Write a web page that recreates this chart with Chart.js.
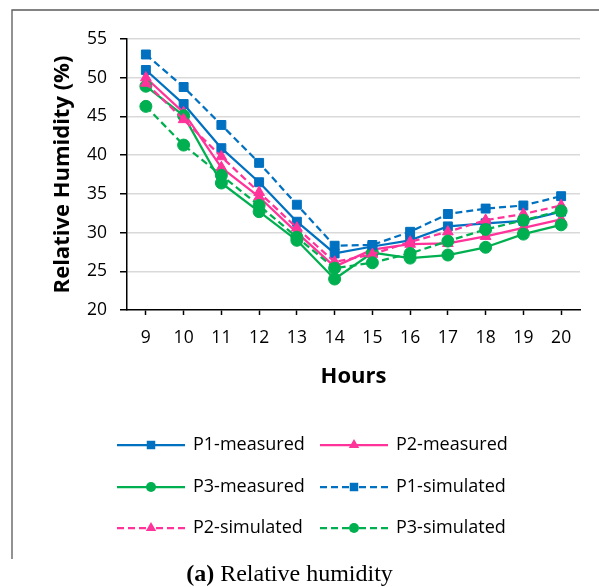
<!DOCTYPE html>
<html>
<head>
<meta charset="utf-8">
<script src="https://cdn.jsdelivr.net/npm/chart.js@4.4.1/dist/chart.umd.min.js"></script>
<style>
  html, body { margin: 0; padding: 0; background: #fff; }
  #wrap { width: 599px; height: 587px; position: relative; }
</style>
</head>
<body>
<div id="wrap"><canvas id="c" width="599" height="587"></canvas></div>
<script>
const hours = ['9', '10', '11', '12', '13', '14', '15', '16', '17', '18', '19', '20'];
const seriesLabels = ['P1-measured', 'P2-measured', 'P3-measured', 'P1-simulated', 'P2-simulated', 'P3-simulated'];
const p1Measured  = [51.0, 46.6, 40.9, 36.5, 31.4, 27.3, 28.2, 29.0, 30.8, 31.2, 31.5, 32.7];
const p2Measured  = [50.0, 45.5, 38.4, 34.6, 30.0, 25.6, 27.8, 28.5, 28.6, 29.5, 30.6, 31.7];
const p3Measured  = [48.9, 45.1, 36.4, 32.7, 29.0, 24.0, 27.4, 26.7, 27.1, 28.1, 29.8, 31.0];
const p1Simulated = [53.0, 48.8, 43.9, 39.0, 33.6, 28.3, 28.4, 30.1, 32.4, 33.1, 33.5, 34.7];
const p2Simulated = [49.3, 44.6, 39.8, 35.2, 30.6, 26.2, 27.2, 28.8, 30.1, 31.6, 32.4, 33.5];
const p3Simulated = [46.3, 41.3, 37.4, 33.5, 29.4, 25.4, 26.1, 27.3, 28.9, 30.4, 31.6, 32.8];
const yTicks = [20, 25, 30, 35, 40, 45, 50, 55];
const xTitle = 'Hours';
const yTitle = 'Relative Humidity (%)';
const captionBold = '(a)';
const captionRest = ' Relative humidity';

const BLUE = '#0070C0', PINK = '#FF3399', GREEN = '#00B050';
const FONT = "'Open Sans', sans-serif";
const DASH = [7, 4];

function ds(label, data, color, style, dashed, radius, idx) {
  return {
    label, data,
    borderColor: color, backgroundColor: color,
    borderWidth: 2.25,
    borderDash: dashed ? DASH : [],
    pointStyle: style,
    pointRadius: radius,
    pointHoverRadius: radius,
    pointBorderWidth: 1,
    pointBorderColor: color,
    pointBackgroundColor: color,
    tension: 0,
    fill: false,
    order: 10 - idx
  };
}

const datasets = [
  ds(seriesLabels[0], p1Measured, BLUE, 'rect', false, 6.3, 0),
  ds(seriesLabels[1], p2Measured, PINK, 'triangle', false, 6.2, 1),
  ds(seriesLabels[2], p3Measured, GREEN, 'circle', false, 6.0, 2),
  ds(seriesLabels[3], p1Simulated, BLUE, 'rect', true, 6.3, 3),
  ds(seriesLabels[4], p2Simulated, PINK, 'triangle', true, 6.2, 4),
  ds(seriesLabels[5], p3Simulated, GREEN, 'circle', true, 6.0, 5)
];

function drawMarker(ctx, style, x, y, r, color) {
  ctx.save();
  ctx.fillStyle = color;
  ctx.beginPath();
  if (style === 'rect') {
    const s = r * Math.SQRT1_2;
    ctx.rect(x - s, y - s, 2 * s, 2 * s);
  } else if (style === 'triangle') {
    ctx.moveTo(x, y - r);
    ctx.lineTo(x + r * 0.866, y + r * 0.5);
    ctx.lineTo(x - r * 0.866, y + r * 0.5);
    ctx.closePath();
  } else {
    ctx.arc(x, y, r, 0, Math.PI * 2);
  }
  ctx.fill();
  ctx.restore();
}

const decorPlugin = {
  id: 'decor',
  beforeDraw(chart) {
    const ctx = chart.ctx;
    ctx.save();
    ctx.fillStyle = '#fff';
    ctx.fillRect(0, 0, chart.width, chart.height);
    ctx.strokeStyle = '#595959';
    ctx.lineWidth = 1.3;
    ctx.beginPath();
    ctx.moveTo(12, 559);
    ctx.lineTo(12, 10);
    ctx.lineTo(599, 10);
    ctx.stroke();
    ctx.restore();
  },
  afterDraw(chart) {
    const ctx = chart.ctx;
    // legend
    const cols = [{x0: 117, x1: 185, tx: 193}, {x0: 320, x1: 388, tx: 396}];
    const rows = [445, 487, 528];
    chart.data.datasets.forEach((d, i) => {
      const c = cols[i % 2], y = rows[Math.floor(i / 2)];
      ctx.save();
      ctx.strokeStyle = d.borderColor;
      ctx.lineWidth = 2.25;
      ctx.setLineDash(d.borderDash || []);
      ctx.beginPath();
      const mid = (c.x0 + c.x1) / 2;
      if (d.borderDash && d.borderDash.length) {
        ctx.moveTo(c.x0, y); ctx.lineTo(mid - 2, y);
        ctx.stroke();
        ctx.beginPath();
        ctx.moveTo(c.x1, y); ctx.lineTo(mid + 2, y);
      } else {
        ctx.moveTo(c.x0, y); ctx.lineTo(c.x1, y);
      }
      ctx.stroke();
      ctx.restore();
      drawMarker(ctx, d.pointStyle, mid, y, d.pointStyle === 'circle' ? 5 : 6, d.borderColor);
      ctx.save();
      ctx.fillStyle = '#000';
      ctx.font = "18px " + FONT;
      ctx.textBaseline = 'middle';
      ctx.textAlign = 'left';
      ctx.fillText(d.label, c.tx, y);
      ctx.restore();
    });
    // caption
    ctx.save();
    ctx.fillStyle = '#000';
    ctx.textBaseline = 'middle';
    const fb = "bold 24px 'Liberation Serif', 'Times New Roman', serif";
    const fr = "24px 'Liberation Serif', 'Times New Roman', serif";
    ctx.font = fb; const wb = ctx.measureText(captionBold).width;
    ctx.font = fr; const wr = ctx.measureText(captionRest).width;
    const startX = 289.5 - (wb + wr) / 2;
    ctx.font = fb; ctx.textAlign = 'left'; ctx.fillText(captionBold, startX, 575);
    ctx.font = fr; ctx.fillText(captionRest, startX + wb, 575);
    ctx.restore();
  }
};

new Chart(document.getElementById('c'), {
  type: 'line',
  data: { labels: hours, datasets },
  options: {
    responsive: false,
    animation: false,
    devicePixelRatio: 1,
    layout: { padding: { left: 0, top: 39, right: 19, bottom: 0 } },
    plugins: { legend: { display: false }, tooltip: { enabled: false }, title: { display: false } },
    elements: { line: { borderCapStyle: 'butt', borderJoinStyle: 'round' } },
    scales: {
      x: {
        type: 'category',
        offset: true,
        afterFit(scale) { scale.height = 587 - 310; },
        grid: { display: true, drawOnChartArea: false, drawTicks: true, tickLength: 5, tickColor: '#000', tickWidth: 1.5, offset: false },
        border: { display: true, color: '#000', width: 1.5 },
        ticks: { color: '#000', font: { family: FONT, size: 17.5 }, padding: 13, maxRotation: 0, autoSkip: false },
        title: { display: true, text: xTitle, color: '#000', font: { family: FONT, size: 22, weight: 'bold' }, padding: { top: 0, bottom: 197 } }
      },
      y: {
        min: yTicks[0], max: yTicks[yTicks.length - 1],
        afterFit(scale) { scale.width = 127; },
        afterBuildTicks(scale) { scale.ticks = yTicks.map(v => ({ value: v })); },
        grid: {
          color: (c) => (c.tick && c.tick.value === yTicks[0]) ? 'rgba(0,0,0,0)' : '#D9D9D9',
          lineWidth: 1.5,
          drawTicks: true, tickLength: 7, tickColor: '#000', tickWidth: 1.5
        },
        border: { display: true, color: '#000', width: 1.5 },
        ticks: { color: '#000', font: { family: FONT, size: 17.5 }, padding: 13, stepSize: 5 },
        title: { display: true, text: yTitle, color: '#000', font: { family: FONT, size: 22, weight: 'bold' }, padding: { top: 50, bottom: 0 } }
      }
    }
  },
  plugins: [decorPlugin]
});
</script>
</body>
</html>
